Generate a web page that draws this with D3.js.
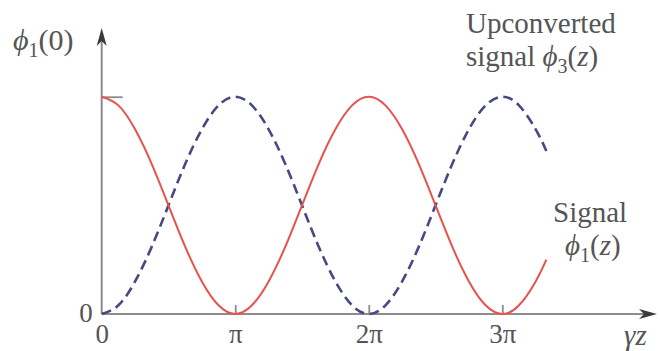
<!DOCTYPE html>
<html>
<head>
<meta charset="utf-8">
<script src="https://cdn.jsdelivr.net/npm/d3@7"></script>
<style>
  html, body { margin: 0; padding: 0; background: #fff; }
  svg { display: block; }
</style>
</head>
<body>
<svg id="chart" width="660" height="351"></svg>
<script>
// Propagation distance γz, in units of π
const zPi = [0, 0.125, 0.25, 0.375, 0.5, 0.625, 0.75, 0.875,
             1, 1.125, 1.25, 1.375, 1.5, 1.625, 1.75, 1.875,
             2, 2.125, 2.25, 2.375, 2.5, 2.625, 2.75, 2.875,
             3, 3.125, 3.25, 3.33];
// Signal ϕ1(z), normalised to ϕ1(0)
const signal = [1.00, 0.96, 0.85, 0.69, 0.50, 0.31, 0.15, 0.04,
                0.00, 0.04, 0.15, 0.31, 0.50, 0.69, 0.85, 0.96,
                1.00, 0.96, 0.85, 0.69, 0.50, 0.31, 0.15, 0.04,
                0.00, 0.04, 0.15, 0.25];
// Upconverted signal ϕ3(z)
const upconverted = [0.00, 0.04, 0.15, 0.31, 0.50, 0.69, 0.85, 0.96,
                     1.00, 0.96, 0.85, 0.69, 0.50, 0.31, 0.15, 0.04,
                     0.00, 0.04, 0.15, 0.31, 0.50, 0.69, 0.85, 0.96,
                     1.00, 0.96, 0.85, 0.75];
const xTickValues = [0, 1, 2, 3];
const xTickLabels = ["0", "π", "2π", "3π"];
const yTickValues = [0, 1];
const yTickLabels = ["0", ""];

const svg = d3.select("#chart");
const serif = '"Liberation Serif", "Times New Roman", serif';
const axisColor = "#8c8c8c";
const textColor = "#555";
const arrowColor = "#3a3a3a";

const x = d3.scaleLinear().domain([0, 3]).range([101.7, 502.3]);
const y = d3.scaleLinear().domain([0, 1]).range([314, 96.7]);

// Axis lines
svg.append("line")
  .attr("x1", x(0)).attr("x2", 648)
  .attr("y1", y(0)).attr("y2", y(0))
  .attr("stroke", axisColor).attr("stroke-width", 2);
svg.append("line")
  .attr("x1", x(0)).attr("x2", x(0))
  .attr("y1", y(0)).attr("y2", 38)
  .attr("stroke", axisColor).attr("stroke-width", 2);

// Arrowheads
svg.append("path")
  .attr("d", `M${x(0)},28 L${x(0) - 5},46 L${x(0)},41 L${x(0) + 5},46 Z`)
  .attr("fill", arrowColor);
svg.append("path")
  .attr("d", `M657,${y(0)} L639,${y(0) - 5} L644,${y(0)} L639,${y(0) + 5} Z`)
  .attr("fill", arrowColor);

// x axis ticks and labels (ticks point up into the plot)
const xAxis = d3.axisBottom(x)
  .tickValues(xTickValues)
  .tickSizeInner(-9).tickSizeOuter(0).tickPadding(10)
  .tickFormat((d, i) => xTickLabels[i]);
const gx = svg.append("g").attr("transform", `translate(0,${y(0)})`).call(xAxis);
gx.select(".domain").remove();
gx.selectAll(".tick line").attr("stroke", axisColor).attr("stroke-width", 1.8)
  .filter(d => d === 0).remove();
gx.selectAll(".tick text")
  .style("font-family", serif).style("font-size", "27px").attr("fill", textColor);

// y axis: tick at ϕ1(0), "0" at the origin
const yAxis = d3.axisLeft(y)
  .tickValues(yTickValues)
  .tickSizeInner(-21).tickSizeOuter(0).tickPadding(9)
  .tickFormat((d, i) => yTickLabels[i]);
const gy = svg.append("g").attr("transform", `translate(${x(0)},0)`).call(yAxis);
gy.select(".domain").remove();
gy.selectAll(".tick line").attr("stroke", axisColor).attr("stroke-width", 1.8)
  .filter(d => d === 0).remove();
gy.selectAll(".tick text")
  .style("font-family", serif).style("font-size", "27px").attr("fill", textColor)
  .attr("dy", "0.28em");

// Curves
const line = d3.line()
  .x((d, i) => x(zPi[i]))
  .y(d => y(d))
  .curve(d3.curveNatural);

svg.append("path")
  .datum(upconverted)
  .attr("d", line)
  .attr("fill", "none")
  .attr("stroke", "#454a82")
  .attr("stroke-width", 2.6)
  .attr("stroke-dasharray", "10,5.5");

svg.append("path")
  .datum(signal)
  .attr("d", line)
  .attr("fill", "none")
  .attr("stroke", "#e8524c")
  .attr("stroke-width", 2);

// Text labels
function label(xPos, yPos, parts, size) {
  const t = svg.append("text")
    .attr("x", xPos).attr("y", yPos)
    .style("font-family", serif)
    .style("font-size", (size || 29) + "px")
    .attr("fill", textColor);
  parts.forEach(p => {
    const s = t.append("tspan").text(p.t);
    if (p.italic) s.style("font-style", "italic");
    if (p.size) s.style("font-size", p.size + "px");
    if (p.dy) s.attr("dy", p.dy);
  });
  return t;
}

label(13, 50, [
  { t: "ϕ", italic: true },
  { t: "1", size: 20, dy: 7 },
  { t: "(0)", dy: -7 }
], 30);

label(466, 33, [{ t: "Upconverted" }]);
label(466, 65.5, [
  { t: "signal " },
  { t: "ϕ", italic: true },
  { t: "3", size: 20, dy: 7 },
  { t: "(", dy: -7 },
  { t: "z", italic: true },
  { t: ")" }
]);

label(553, 222, [{ t: "Signal" }]);
label(565, 255, [
  { t: "ϕ", italic: true },
  { t: "1", size: 20, dy: 7 },
  { t: "(", dy: -7 },
  { t: "z", italic: true },
  { t: ")" }
]);

label(624, 345, [{ t: "γz", italic: true }], 29);
</script>
</body>
</html>
